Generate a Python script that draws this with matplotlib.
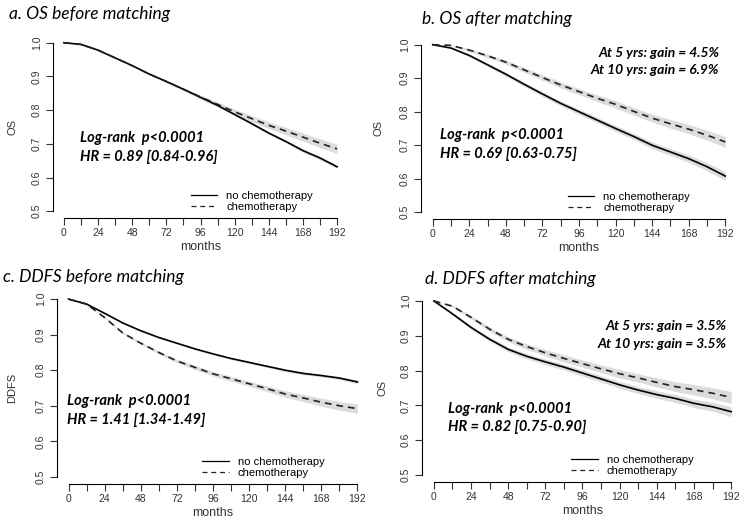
import numpy as np
import matplotlib.pyplot as plt

# ----------------------------------------------------------
# Data (survival every 12 months)
# ----------------------------------------------------------

months = [0, 12, 24, 36, 48, 60, 72, 84, 96, 108, 120, 132, 144, 156, 168, 180, 192]

os_before_nochemo = [1.0, 0.995, 0.978, 0.955, 0.932, 0.907, 0.885, 0.862, 0.838,
                     0.814, 0.787, 0.760, 0.732, 0.707, 0.680, 0.658, 0.632]
os_before_chemo = [1.0, 0.995, 0.978, 0.955, 0.932, 0.907, 0.885, 0.862, 0.839,
                   0.817, 0.795, 0.775, 0.755, 0.738, 0.720, 0.702, 0.685]
os_before_nochemo_ci = [0, 0, 0, 0, 0, 0.001, 0.002, 0.002, 0.003,
                        0.003, 0.003, 0.004, 0.004, 0.004, 0.005, 0.005, 0.005]
os_before_chemo_ci = [0, 0, 0, 0, 0, 0.002, 0.003, 0.004, 0.006,
                      0.007, 0.008, 0.009, 0.010, 0.011, 0.012, 0.013, 0.014]

os_after_nochemo = [1.0, 0.990, 0.968, 0.940, 0.912, 0.882, 0.853, 0.825, 0.800,
                    0.775, 0.750, 0.726, 0.700, 0.680, 0.660, 0.636, 0.608]
os_after_chemo = [1.0, 0.998, 0.984, 0.967, 0.948, 0.925, 0.902, 0.880, 0.860,
                  0.840, 0.822, 0.801, 0.781, 0.764, 0.748, 0.730, 0.710]
os_after_nochemo_ci = [0, 0.002, 0.004, 0.005, 0.006, 0.006, 0.007, 0.007, 0.008,
                       0.008, 0.009, 0.009, 0.010, 0.010, 0.011, 0.012, 0.013]
os_after_chemo_ci = [0, 0.002, 0.004, 0.005, 0.006, 0.007, 0.008, 0.009, 0.009,
                     0.010, 0.011, 0.011, 0.012, 0.013, 0.014, 0.015, 0.016]

ddfs_before_nochemo = [1.0, 0.986, 0.960, 0.933, 0.911, 0.892, 0.876, 0.860, 0.846,
                       0.833, 0.822, 0.811, 0.800, 0.791, 0.785, 0.778, 0.767]
ddfs_before_chemo = [1.0, 0.986, 0.948, 0.905, 0.876, 0.850, 0.826, 0.808, 0.790,
                     0.776, 0.762, 0.748, 0.733, 0.722, 0.710, 0.700, 0.692]
ddfs_before_nochemo_ci = [0, 0, 0.001, 0.001, 0.002, 0.002, 0.002, 0.002, 0.003,
                          0.003, 0.003, 0.003, 0.004, 0.004, 0.004, 0.004, 0.005]
ddfs_before_chemo_ci = [0, 0.001, 0.002, 0.003, 0.003, 0.004, 0.005, 0.006, 0.006,
                        0.007, 0.007, 0.008, 0.009, 0.010, 0.011, 0.012, 0.013]

ddfs_after_nochemo = [1.0, 0.963, 0.924, 0.890, 0.861, 0.841, 0.825, 0.810, 0.793,
                      0.776, 0.759, 0.744, 0.731, 0.720, 0.706, 0.696, 0.682]
ddfs_after_chemo = [1.0, 0.985, 0.953, 0.919, 0.890, 0.869, 0.851, 0.835, 0.820,
                    0.805, 0.791, 0.779, 0.766, 0.754, 0.745, 0.735, 0.723]
ddfs_after_nochemo_ci = [0, 0.003, 0.005, 0.006, 0.007, 0.007, 0.008, 0.008, 0.009,
                         0.009, 0.010, 0.010, 0.011, 0.011, 0.012, 0.013, 0.014]
ddfs_after_chemo_ci = [0, 0.003, 0.005, 0.006, 0.007, 0.008, 0.009, 0.010, 0.010,
                       0.011, 0.012, 0.012, 0.013, 0.014, 0.015, 0.016, 0.017]

titles = ["a. OS before matching", "b. OS after matching",
          "c. DDFS before matching", "d. DDFS after matching"]
ylabels = ["OS", "OS", "DDFS", "OS"]
stats = [("Log-rank  p<0.0001", "HR = 0.89 [0.84-0.96]"),
         ("Log-rank  p<0.0001", "HR = 0.69 [0.63-0.75]"),
         ("Log-rank  p<0.0001", "HR = 1.41 [1.34-1.49]"),
         ("Log-rank  p<0.0001", "HR = 0.82 [0.75-0.90]")]
gains = [None,
         ("At 5 yrs: gain = 4.5%", "At 10 yrs: gain = 6.9%"),
         None,
         ("At 5 yrs: gain = 3.5%", "At 10 yrs: gain = 3.5%")]

# ----------------------------------------------------------
# Figure
# ----------------------------------------------------------

plt.rcParams["font.family"] = ["Liberation Sans", "DejaVu Sans"]

fig = plt.figure(figsize=(7.5, 5.32), dpi=100)

# axes boxes in pixels: left, top, right, bottom
boxes = [(53, 36, 348, 218), (421, 38, 737, 219),
         (57, 292, 369, 484), (422, 294, 743, 482)]

# text positions (month, OS)
stat_pos = [(11, 0.718, 0.662), (5, 0.73, 0.675), (-1, 0.714, 0.660), (9, 0.69, 0.637)]
gain_pos = [None, (188, 0.975, 0.925), None, (189, 0.927, 0.876)]
title_px = [(9, 14), (422, 19), (3, 277), (425, 279)]
ylabel_px = [13, 379, 12, 382]

series = [
    (os_before_nochemo, os_before_nochemo_ci, os_before_chemo, os_before_chemo_ci),
    (os_after_nochemo, os_after_nochemo_ci, os_after_chemo, os_after_chemo_ci),
    (ddfs_before_nochemo, ddfs_before_nochemo_ci, ddfs_before_chemo, ddfs_before_chemo_ci),
    (ddfs_after_nochemo, ddfs_after_nochemo_ci, ddfs_after_chemo, ddfs_after_chemo_ci),
]

W, H = 750, 532
t = np.array(months)
title_font = ["Lato", "DejaVu Sans"]

for i in range(4):
    l, top, r, b = boxes[i]
    ax = fig.add_axes([l / W, 1 - b / H, (r - l) / W, (b - top) / H])

    nochemo, nochemo_ci, chemo, chemo_ci = [np.array(s) for s in series[i]]

    ax.fill_between(t, nochemo - nochemo_ci, nochemo + nochemo_ci,
                    color="#dcdcdc", lw=0, zorder=1)
    ax.fill_between(t, chemo - chemo_ci, chemo + chemo_ci,
                    color="#dcdcdc", lw=0, zorder=1)

    ax.plot(t, nochemo, color="black", lw=1.2, label="no chemotherapy", zorder=3)
    ax.plot(t, chemo, color="#222222", lw=1.2, dashes=(4, 3),
            label="chemotherapy", zorder=3)

    ax.set_xlim(-7.68, 199.68)
    ax.set_ylim(0.48, 1.02)

    for side in ["top", "right"]:
        ax.spines[side].set_visible(False)
    ax.spines["left"].set_bounds(0.5, 1.0)
    ax.spines["bottom"].set_bounds(0, 192)
    ax.spines["left"].set_linewidth(0.8)
    ax.spines["bottom"].set_linewidth(0.8)

    ax.set_xticks(np.arange(0, 193, 24))
    ax.set_xticks(np.arange(0, 193, 12), minor=True)
    ax.set_yticks(np.arange(0.5, 1.01, 0.1))
    ax.set_yticklabels([f"{v:.1f}" for v in np.arange(0.5, 1.01, 0.1)],
                       rotation=90, va="center")
    ax.tick_params(which="both", length=5, width=0.8, labelsize=7.5,
                   color="#333333", labelcolor="#333333")
    ax.tick_params(axis="x", pad=2.5)
    ax.tick_params(axis="y", pad=3)

    ax.set_xlabel("months", fontsize=9, color="#333333", labelpad=2)

    fig.text(ylabel_px[i] / W, 1 - ((top + b) / 2) / H, ylabels[i],
             rotation=90, ha="center", va="center", fontsize=8, color="#333333")

    fig.text(title_px[i][0] / W, 1 - title_px[i][1] / H, titles[i],
             family=title_font, style="italic", fontsize=12.5,
             ha="left", va="center")

    sx, sy1, sy2 = stat_pos[i]
    ax.text(sx, sy1, stats[i][0], family=title_font, style="italic",
            weight="bold", fontsize=10.5, ha="left", va="center")
    ax.text(sx, sy2, stats[i][1], family=title_font, style="italic",
            weight="bold", fontsize=10.5, ha="left", va="center")

    if gains[i] is not None:
        gx, gy1, gy2 = gain_pos[i]
        ax.text(gx, gy1, gains[i][0], family=title_font, style="italic",
                weight="bold", fontsize=10, ha="right", va="center")
        ax.text(gx, gy2, gains[i][1], family=title_font, style="italic",
                weight="bold", fontsize=10, ha="right", va="center")

    leg = ax.legend(loc="lower left", bbox_to_anchor=(0.44, -0.01), frameon=False,
                    fontsize=8, handlelength=2.4, handletextpad=0.8,
                    labelspacing=0.1, borderpad=0.2)
    for h in leg.get_lines():
        h.set_linewidth(0.9)

fig.savefig("out.png", dpi=100)
